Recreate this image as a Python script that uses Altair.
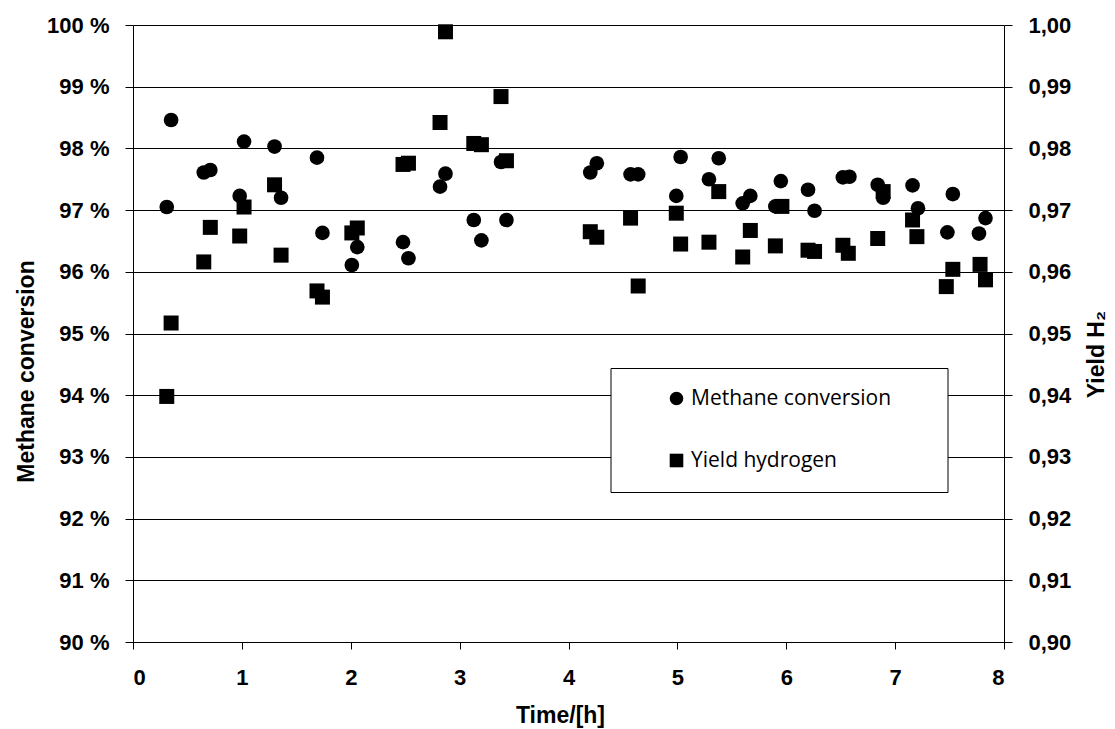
import altair as alt
import pandas as pd

series_names = ["Methane conversion", "Yield hydrogen"]

mc_time = [0.31, 0.35, 0.65, 0.71, 0.98, 1.02, 1.30, 1.36, 1.69, 1.74, 2.01, 2.06,
           2.48, 2.53, 2.82, 2.87, 3.13, 3.20, 3.38, 3.43, 4.20, 4.26, 4.57, 4.64,
           4.99, 5.03, 5.29, 5.38, 5.60, 5.67, 5.90, 5.95, 6.20, 6.26, 6.52, 6.58,
           6.84, 6.89, 7.16, 7.21, 7.48, 7.53, 7.77, 7.83]
mc_val = [97.05, 98.46, 97.61, 97.65, 97.23, 98.11, 98.03, 97.20, 97.85, 96.63, 96.11, 96.40,
          96.48, 96.22, 97.38, 97.59, 96.84, 96.51, 97.78, 96.84, 97.61, 97.76, 97.58, 97.58,
          97.23, 97.86, 97.50, 97.84, 97.11, 97.23, 97.06, 97.47, 97.33, 96.99, 97.53, 97.54,
          97.41, 97.20, 97.40, 97.03, 96.64, 97.26, 96.62, 96.87]

yh_time = [0.31, 0.35, 0.65, 0.71, 0.98, 1.02, 1.30, 1.36, 1.69, 1.74, 2.01, 2.06,
           2.48, 2.53, 2.82, 2.87, 3.13, 3.20, 3.38, 3.43, 4.20, 4.26, 4.57, 4.64,
           4.99, 5.03, 5.29, 5.38, 5.60, 5.67, 5.90, 5.96, 6.20, 6.26, 6.52, 6.57,
           6.84, 6.89, 7.16, 7.20, 7.47, 7.53, 7.78, 7.83]
yh_val = [0.9398, 0.9517, 0.9616, 0.9672, 0.9658, 0.9705, 0.9741, 0.9627, 0.9569, 0.9559, 0.9663, 0.9671,
          0.9774, 0.9776, 0.9842, 0.9989, 0.9808, 0.9806, 0.9884, 0.9780, 0.9665, 0.9656, 0.9687, 0.9577,
          0.9695, 0.9645, 0.9648, 0.9730, 0.9624, 0.9667, 0.9642, 0.9706, 0.9635, 0.9633, 0.9643, 0.9630,
          0.9654, 0.9730, 0.9684, 0.9657, 0.9576, 0.9604, 0.9612, 0.9587]

x_ticks = [0, 1, 2, 3, 4, 5, 6, 7, 8]
left_ticks = [90, 91, 92, 93, 94, 95, 96, 97, 98, 99, 100]
right_ticks = [0.90, 0.91, 0.92, 0.93, 0.94, 0.95, 0.96, 0.97, 0.98, 0.99, 1.00]

mc = pd.DataFrame({"time": mc_time, "value": mc_val, "series": series_names[0]})
yh = pd.DataFrame({"time": yh_time, "value": yh_val, "series": series_names[1]})

FONT = "Liberation Sans"

x_enc = alt.X(
    "time:Q",
    scale=alt.Scale(domain=[0, 8], nice=False, zero=False),
    axis=alt.Axis(values=x_ticks, format="d", title="Time/[h]", grid=False,
                  tickSize=7, labelPadding=18, titleX=427, titleY=80,
                  titleBaseline="alphabetic", titleAlign="center"),
)

shape_enc = alt.Shape(
    "series:N",
    scale=alt.Scale(domain=series_names, range=["circle", "square"]),
    legend=alt.Legend(orient="none", legendX=533, legendY=363, title=None,
                      labelFont="Open Sans", labelFontSize=21, labelFontWeight="normal",
                      labelColor="black", symbolSize=185, symbolFillColor="black",
                      symbolStrokeWidth=0, rowPadding=40, padding=0, labelOffset=4,
                      labelLimit=400),
)

left = alt.Chart(mc).mark_point(filled=True, opacity=1, color="black", size=215).encode(
    x=x_enc,
    y=alt.Y("value:Q",
            scale=alt.Scale(domain=[90, 100], nice=False, zero=False),
            axis=alt.Axis(values=left_ticks, labelExpr="datum.value + ' %'",
                          title="Methane conversion", orient="left", grid=True,
                          gridColor="black", gridWidth=1, gridOpacity=1,
                          tickSize=8, labelPadding=16, titleX=-107, titleY=346,
                          titleAngle=270, titleAlign="center", titleBaseline="middle")),
    shape=shape_enc,
)

right = alt.Chart(yh).mark_point(filled=True, opacity=1, color="black", size=225).encode(
    x=x_enc,
    y=alt.Y("value:Q",
            scale=alt.Scale(domain=[0.90, 1.00], nice=False, zero=False),
            axis=alt.Axis(values=right_ticks,
                          labelExpr="replace(format(datum.value, '.2f'), '.', ',')",
                          title="Yield H₂", orient="right", grid=False,
                          tickSize=8, labelPadding=16, titleX=92, titleY=329,
                          titleAngle=270, titleAlign="center", titleBaseline="middle")),
    shape=shape_enc,
)

box = alt.Chart(alt.Data(values=[{}])).mark_rect(fill="white", stroke="black", strokeWidth=1).encode(
    x=alt.value(478), x2=alt.value(815), y=alt.value(343.5), y2=alt.value(467.5)
)

chart = alt.layer(left, right, box).resolve_scale(y="independent").properties(
    width=871, height=617,
    autosize=alt.AutoSizeParams(type="none"),
    padding={"left": 133, "top": 25, "right": 111, "bottom": 87},
    background="white",
).configure_view(stroke="transparent").configure_axis(
    labelFont=FONT, labelFontSize=22, labelFontWeight="bold", labelColor="black",
    titleFont=FONT, titleFontSize=23, titleFontWeight="bold", titleColor="black",
    domainColor="black", domainWidth=1, tickColor="black", tickWidth=1,
)

chart.save("out.html", embed_options={"renderer": "svg", "actions": False})
